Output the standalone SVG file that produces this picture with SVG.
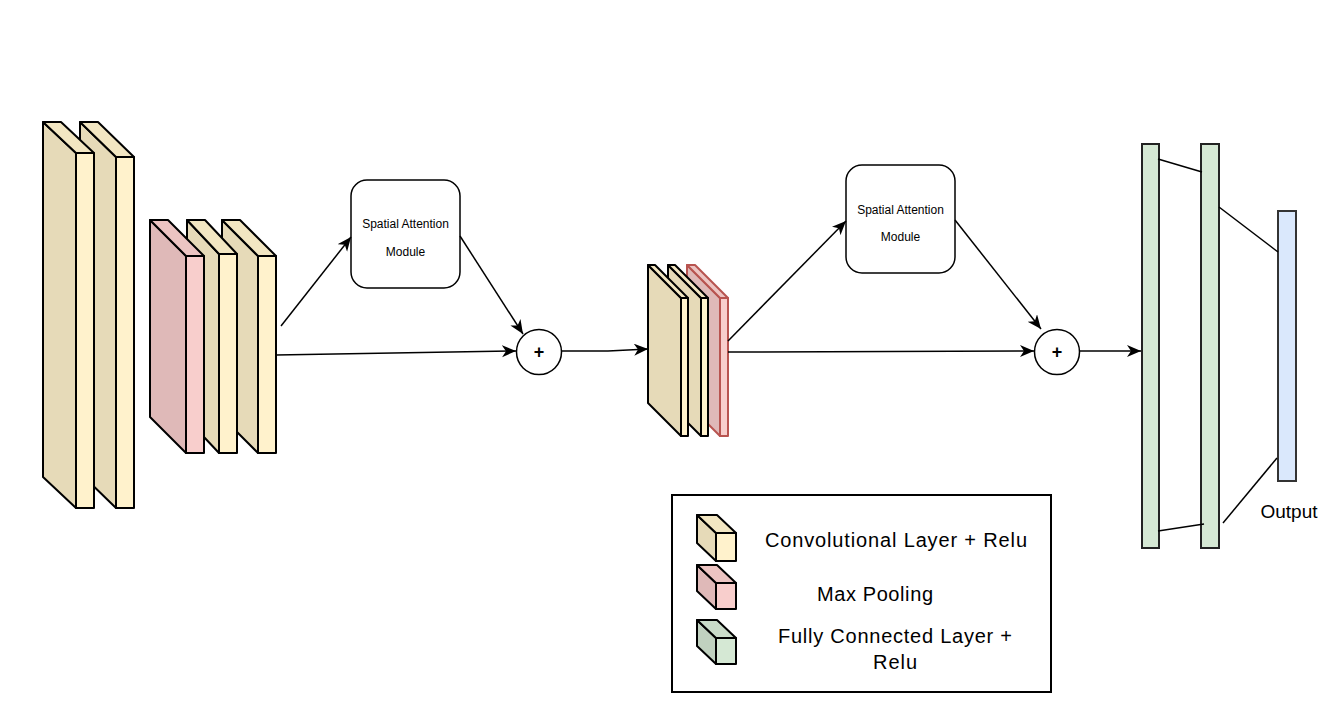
<svg xmlns="http://www.w3.org/2000/svg" width="1340" height="719" viewBox="0 0 1340 719">
<style>
.s{stroke:#000;stroke-width:2;stroke-linejoin:round}
.cf{fill:#fff2cc}.cs{fill:#e6dab8}.ct{fill:#f2e6c2}
.pf{fill:#f8cecc}.ps{fill:#dfb9b8}.pt{fill:#ecc4c2}
.gf{fill:#d5e8d4}.gs{fill:#c0d1bf}.gt{fill:#cadcc9}
.r{stroke:#b85450;stroke-width:2;stroke-linejoin:round}
.ln{stroke:#000;stroke-width:1.5;fill:none}
.t{font-family:"Liberation Sans",Arial,sans-serif;fill:#000}
</style>
<defs>
<marker id="a" markerUnits="userSpaceOnUse" markerWidth="16" markerHeight="14" refX="14" refY="6" orient="auto">
<path d="M0,0 L14,6 L0,12 L4,6 Z" fill="#000"/>
</marker>
</defs>
<rect width="1340" height="719" fill="#fff"/>

<g id="block1">
<g id="conv2">
<polygon class="s cs" points="80,122 116,157 116,508 80,473"/>
<polygon class="s ct" points="80,122 98,122 134,157 116,157"/>
<rect class="s cf" x="116" y="157" width="18" height="351"/>
</g>
<g id="conv1">
<polygon class="s cs" points="43,122 76,153 76,508 43,477"/>
<polygon class="s ct" points="43,122 61,122 94,153 76,153"/>
<rect class="s cf" x="76" y="153" width="18" height="355"/>
</g>
</g>

<g id="block2">
<g id="conv4">
<polygon class="s cs" points="222,220 258,256 258,453 222,417"/>
<polygon class="s ct" points="222,220 240,220 276,256 258,256"/>
<rect class="s cf" x="258" y="256" width="18" height="197"/>
</g>
<g id="conv3">
<polygon class="s cs" points="187,220 219,254 219,453 187,419"/>
<polygon class="s ct" points="187,220 205,220 237,254 219,254"/>
<rect class="s cf" x="219" y="254" width="18" height="199"/>
</g>
<g id="pool1">
<polygon class="s ps" points="150,220 186,256 186,453 150,417"/>
<polygon class="s pt" points="150,220 168,220 204,256 186,256"/>
<rect class="s pf" x="186" y="256" width="18" height="197"/>
</g>
</g>

<g id="block3">
<g id="pool2">
<polygon class="r ps" points="687,265 720,298 720,436 687,403"/>
<polygon class="r pt" points="687,265 695,265 728,298 720,298"/>
<rect class="r pf" x="720" y="298" width="8" height="138"/>
</g>
<g id="conv6">
<polygon class="s cs" points="668,265 701,298 701,436 668,403"/>
<polygon class="s ct" points="668,265 675,265 708,298 701,298"/>
<rect class="s cf" x="701" y="298" width="7" height="138"/>
</g>
<g id="conv5">
<polygon class="s cs" points="648,265 681,298 681,436 648,403"/>
<polygon class="s ct" points="648,265 655,265 688,298 681,298"/>
<rect class="s cf" x="681" y="298" width="7" height="138"/>
</g>
</g>

<g id="sam1">
<rect x="351" y="180" width="109" height="108" rx="16" fill="#fff" stroke="#000" stroke-width="1.5"/>
<text class="t" x="405.5" y="228" font-size="12" text-anchor="middle">Spatial Attention</text>
<text class="t" x="405.5" y="256" font-size="12" text-anchor="middle">Module</text>
</g>
<g id="sam2">
<rect x="846" y="165" width="109" height="108" rx="16" fill="#fff" stroke="#000" stroke-width="1.5"/>
<text class="t" x="900.5" y="214" font-size="12" text-anchor="middle">Spatial Attention</text>
<text class="t" x="900.5" y="241" font-size="12" text-anchor="middle">Module</text>
</g>
<g id="add1">
<circle cx="539" cy="352" r="22.5" fill="#fff" stroke="#000" stroke-width="1.5"/>
<text class="t" x="539" y="358" font-size="18" font-weight="bold" text-anchor="middle">+</text>
</g>
<g id="add2">
<circle cx="1057" cy="352" r="22.5" fill="#fff" stroke="#000" stroke-width="1.5"/>
<text class="t" x="1057" y="358" font-size="18" font-weight="bold" text-anchor="middle">+</text>
</g>

<g id="fc1"><rect x="1142" y="144" width="17" height="404" fill="#d5e8d4" stroke="#222" stroke-width="2"/></g>
<g id="fc2"><rect x="1201" y="144" width="18" height="404" fill="#d5e8d4" stroke="#222" stroke-width="2"/></g>
<g id="output"><rect x="1278" y="211" width="18" height="270" fill="#dae8fc" stroke="#333" stroke-width="2"/>
<text class="t" x="1289" y="518" font-size="19" text-anchor="middle">Output</text></g>

<g id="connectors">
<line class="ln" x1="281" y1="326" x2="351" y2="237" marker-end="url(#a)"/>
<line class="ln" x1="276" y1="355" x2="516" y2="351" marker-end="url(#a)"/>
<line class="ln" x1="460" y1="236" x2="523" y2="334" marker-end="url(#a)"/>
<polyline class="ln" points="562,351 608,351 648,349" marker-end="url(#a)"/>
<line class="ln" x1="728" y1="341" x2="846" y2="221" marker-end="url(#a)"/>
<line class="ln" x1="728" y1="352" x2="1034" y2="351" marker-end="url(#a)"/>
<line class="ln" x1="955" y1="220" x2="1041" y2="329" marker-end="url(#a)"/>
<line class="ln" x1="1080" y1="351" x2="1141" y2="351" marker-end="url(#a)"/>
<line class="ln" x1="1158" y1="159" x2="1202" y2="172"/>
<line class="ln" x1="1219" y1="207" x2="1278" y2="252"/>
<line class="ln" x1="1158" y1="531" x2="1204" y2="524"/>
<line class="ln" x1="1223" y1="523" x2="1277" y2="458"/>
</g>

<g id="legend">
<rect x="672" y="495" width="379" height="197" fill="#fff" stroke="#000" stroke-width="2"/>
<g id="leg-conv">
<polygon class="s cs" points="697,515 716,533 716,561 697,543"/>
<polygon class="s ct" points="697,515 717,515 736,533 716,533"/>
<rect class="s cf" x="716" y="533" width="20" height="28"/>
</g>
<g id="leg-pool">
<polygon class="s ps" points="697,565 716,583 716,609 697,591"/>
<polygon class="s pt" points="697,565 717,565 736,583 716,583"/>
<rect class="s pf" x="716" y="583" width="20" height="26"/>
</g>
<g id="leg-fc">
<polygon class="s gs" points="697,620 716,638 716,664 697,646"/>
<polygon class="s gt" points="697,620 717,620 736,638 716,638"/>
<rect class="s gf" x="716" y="638" width="20" height="26"/>
</g>
<text class="t" x="765" y="547" font-size="20" textLength="262">Convolutional Layer + Relu</text>
<text class="t" x="817" y="601" font-size="20" textLength="116">Max Pooling</text>
<text class="t" x="778" y="643" font-size="20" textLength="234">Fully Connected Layer +</text>
<text class="t" x="873" y="669" font-size="20" textLength="44">Relu</text>
</g>
</svg>
